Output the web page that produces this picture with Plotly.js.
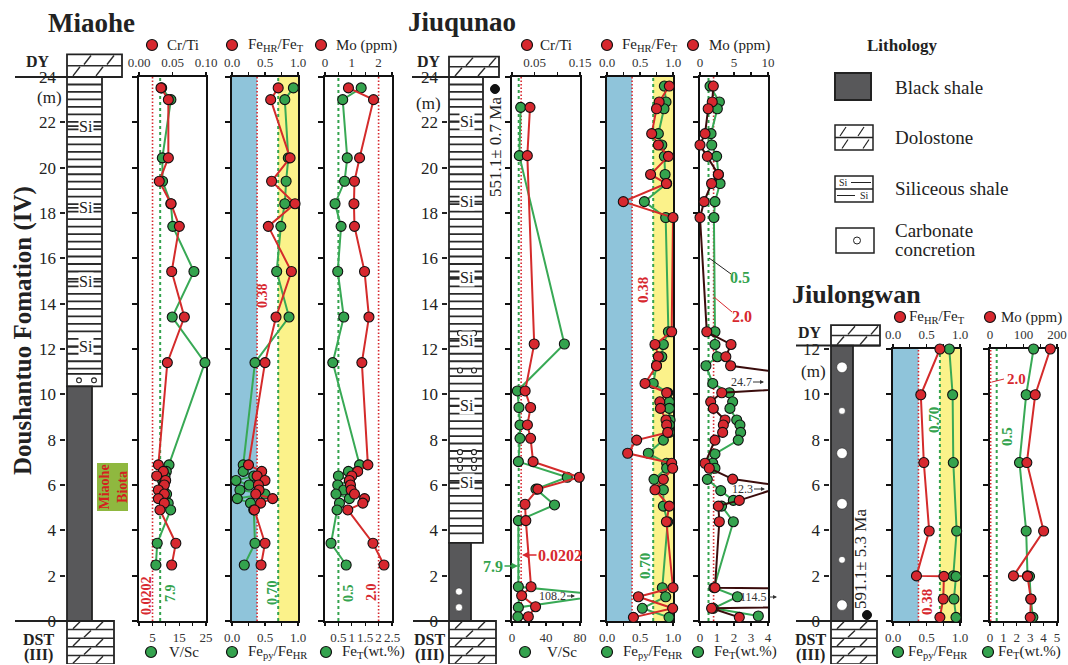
<!DOCTYPE html>
<html><head><meta charset="utf-8">
<script src="https://cdn.plot.ly/plotly-3.0.1.min.js"></script>
<style>html,body{margin:0;padding:0;background:#fff}#chart{width:1068px;height:665px}</style>
</head><body><div id="chart"></div>
<script>
// ================= DATA =================
// Miaohe (depth in m)
const mhDepth = [23.52, 23.0, 20.43, 19.4, 18.41, 17.41, 15.42, 13.41, 11.4, 6.89, 6.6, 6.4, 6.2, 6.0, 5.78, 5.6, 5.4, 5.2, 4.9, 3.43, 2.47];
const mhCrTi = [0.0328, 0.0438, 0.0438, 0.0303, 0.0478, 0.0602, 0.0488, 0.0677, 0.0423, 0.0289, 0.0363, 0.0264, 0.0398, 0.0378, 0.0289, 0.0378, 0.0289, 0.0378, 0.0313, 0.0550, 0.0488];
const mhVSc = [8.46, 11.9, 8.7, 8.8, 11.9, 12.6, 20.5, 12.4, 24.6, 11.2, 10.2, 9.7, 8.8, 9.1, 9.0, 10.3, 8.6, 10.9, 11.8, 6.8, 6.3];
const mhFeHR = [0.70, 0.586, 0.88, 0.60, 0.955, 0.55, 0.90, 0.667, 0.50, 0.25, 0.45, 0.38, 0.50, 0.40, 0.41, 0.36, 0.616, 0.434, 0.34, 0.50, 0.44];
const mhFepy = [0.93, 0.80, 0.853, 0.82, 0.80, 0.74, 0.677, 0.864, 0.348, 0.17, 0.17, 0.33, 0.06, 0.26, 0.12, 0.50, 0.08, 0.28, 0.33, 0.348, 0.186];
const mhMo = [0.875, 1.81, 1.29, 1.10, 1.08, 1.10, 1.475, 1.64, 1.375, 1.60, 1.22, 1.00, 0.91, 0.95, 0.975, 1.10, 1.475, 1.41, 0.85, 1.79, 2.20];
const mhFeT = [1.35, 0.66, 0.83, 0.73, 0.375, 0.60, 0.475, 0.70, 0.29, 1.29, 0.875, 0.50, 0.91, 0.475, 0.70, 0.41, 0.91, 0.54, 0.45, 0.225, 0.79];

// Jiuqunao
const jqCrDepth = [22.66, 20.53, 12.22, 10.15, 9.42, 8.65, 8.06, 7.03, 6.34, 5.82, 5.15, 4.43, 1.51, 1.12, 0.63, 0.19];
const jqCrTi = [0.0397, 0.0338, 0.049, 0.029, 0.041, 0.034, 0.041, 0.0465, 0.1485, 0.057, 0.0287, 0.0305, 0.042, 0.0213, 0.052, 0.036];
const jqVScDepth = [22.66, 20.53, 12.22, 10.15, 9.42, 8.65, 8.06, 7.03, 6.34, 5.82, 5.12, 4.43, 1.51, 1.15, 0.6, 0.19];
const jqVSc = [10.2, 8.6, 61.6, 6.3, 8.2, 9.4, 9.4, 7.5, 65, 28.2, 50.0, 7.5, 7.5, 108.2, 7.5, 6.9];
const jqFeDepth = [23.6, 22.9, 22.6, 21.5, 21.0, 20.5, 19.7, 19.3, 18.5, 17.8, 12.76, 12.2, 11.66, 11.26, 10.48, 10.07, 9.67, 9.38, 8.87, 8.65, 8.32, 7.98, 7.4, 6.96, 6.74, 6.25, 5.79, 5.07, 4.38, 1.47, 1.07, 0.56, 0.16];
const jqFeHR = [0.944, 0.79, 0.75, 0.677, 0.778, 0.93, 0.66, 0.90, 0.247, 1.0, 0.98, 0.727, 0.778, 0.75, 0.576, 0.904, 0.80, 0.81, 0.894, 0.904, 0.92, 0.45, 0.313, 0.98, 0.995, 0.854, 0.727, 0.944, 0.90, 1.0, 0.475, 0.995, 0.40];
const jqFepy = [0.869, 0.894, 0.864, 0.778, 0.83, 0.869, 0.88, 0.904, 0.566, 0.889, 0.93, 0.854, 0.83, 0.75, 0.70, 0.92, 0.944, 0.944, 0.955, 0.944, 0.944, 0.854, 0.626, 0.904, 0.904, 0.712, 0.854, 0.854, 0.92, 0.838, 0.889, 0.535, 0.94];
const jqMoDepth = [23.6, 22.9, 22.6, 21.5, 21.0, 20.5, 19.7, 19.3, 18.5, 17.8, 12.76, 12.2, 11.66, 11.26, 10.45, 10.07, 9.67, 9.38, 8.87, 8.65, 8.32, 7.98, 6.96, 6.74, 6.26, 5.95, 5.32, 5.07, 4.38, 1.47, 1.07, 0.56, 0.16];
const jqMo = [1.96, 1.8, 1.2, 0.74, 0, 1.08, 2.7, 1.7, 0.6, 0, 1.0, 4.56, 3.8, 4.5, 24.7, 3.2, 1.57, 1.96, 3.68, 3.43, 3.33, 2.2, 0.74, 1.37, 4.8, 12.3, 5.78, 2.7, 2.84, 2.2, 114.5, 1.7, 5.78];
const jqFeTDepth = [23.6, 22.9, 22.6, 21.5, 21.0, 20.5, 19.7, 19.3, 18.5, 17.8, 12.76, 12.2, 11.66, 11.26, 10.48, 10.07, 9.67, 9.38, 8.87, 8.65, 8.32, 7.98, 7.37, 6.96, 6.74, 6.25, 5.75, 5.32, 5.07, 4.38, 1.47, 1.07, 0.56, 0.22];
const jqFeT = [0.59, 1.14, 1.02, 0.65, 0.69, 0.98, 1.08, 1.18, 0.88, 0.82, 0.88, 0.88, 1.02, 0.35, 0.75, 1.73, 1.92, 1.76, 2.16, 2.35, 2.39, 2.25, 0.88, 0.75, 0.88, 0.43, 1.22, 1.96, 1.27, 1.96, 0.82, 2.2, 0.78, 3.43];

// Jiulongwan
const jlDepth = [12.0, 9.98, 6.99, 3.97, 1.99, 1.97, 0.97, 0.16];
const jlFeHR = [0.70, 0.415, 0.46, 0.54, 0.35, 0.76, 0.75, 0.70];
const jlFepy = [0.84, 0.89, 0.90, 0.95, 0.90, 0.94, 0.91, 0.94];
const jlMo = [180, 135, 110, 160, 70, 112, 122, 120];
const jlFeT = [3.25, 2.7, 2.2, 2.7, 2.8, 2.95, 3.05, 3.2];

// Thresholds
const thrCrTi = 0.0202, thrVSc = 7.9, thrFeHR = 0.38, thrFepy = 0.70, thrFeT = 0.5, thrMo = 2.0;

// Lithology units (top, base in m)
const mhLithType = ['DY', 'Si', 'Conc', 'Shale', 'DST'];
const mhLithTop = [25.0, 24.0, 10.9, 10.35, 0];
const mhLithBase = [24.0, 10.9, 10.35, 0, -1.9];
const jqLithType = ['DY', 'Si', 'Shale', 'DST'];
const jqLithTop = [24.9, 24.0, 3.45, 0];
const jqLithBase = [24.0, 3.45, 0, -1.9];
const jlLithType = ['DY', 'Shale', 'DST'];
const jlLithTop = [13.05, 12.15, 0];
const jlLithBase = [12.15, 0, -1.9];
const mhSiLabelDepth = [21.83, 18.23, 14.97, 12.1];
const jqSiLabelDepth = [22.04, 18.5, 15.17, 12.36, 9.5, 6.1];
const mhConcDepth = [10.62];
const jqConcDepth = [12.7, 11.05, 7.45, 7.1, 6.75];
const jqShaleConcDepth = [1.3, 0.6];
const jlConcDepth = [11.19, 9.27, 7.4, 5.17, 2.7, 0.7];
const jlConcSize = ['L', 'S', 'L', 'L', 'S', 'L'];

// ================= STYLE / LAYOUT =================
const W = 1068, H = 665;
const PXM = 544 / 24, Y0PX = 621;
const X = px => px / W;
const Y = py => 1 - py / H;
const dpx = d => Y0PX - d * PXM;
const RED = '#d7282f', GREEN = '#34a34e', RLINE = '#d42b2b', GLINE = '#38a955', DARK = '#3a0c0c';
const BLUE = '#8fc4da', YELLOW = '#fbf28a';
const FONT = 'Liberation Serif';
const evens = m => { const a = []; for (let v = 0; v <= m + 1e-9; v += 2) a.push(v); return a; };

const layout = {
  width: W, height: H, margin: {l: 0, r: 0, t: 0, b: 0, pad: 0},
  paper_bgcolor: '#fff', plot_bgcolor: 'rgba(0,0,0,0)', showlegend: false, hovermode: false,
  font: {family: FONT, size: 13, color: '#222'}, shapes: [], annotations: []
};
const traces = [];
let nx = 0, ny = 0;
const xid = n => n === 1 ? 'x' : 'x' + n, yid = n => n === 1 ? 'y' : 'y' + n;
const xkey = n => n === 1 ? 'xaxis' : 'xaxis' + n, ykey = n => n === 1 ? 'yaxis' : 'yaxis' + n;
const tickFont = {family: FONT, size: 13, color: '#333'};

function xAxisBase(a) {
  const o = {showline: true, linecolor: '#111', linewidth: 2.2, ticks: 'outside', ticklen: 3, tickwidth: 1.2,
    tickcolor: '#111', showgrid: false, zeroline: false, tickfont: tickFont, fixedrange: true, layer: 'below traces',
    range: a.range, tickmode: 'array', tickvals: a.tickvals, ticktext: a.tickvals.map(String)};
  if (a.ticktext) o.ticktext = a.ticktext;
  if (a.minor) o.minor = {tickmode: 'array', tickvals: a.minor, ticks: 'outside', ticklen: 3, tickwidth: 1.2, tickcolor: '#111', showgrid: false};
  return o;
}
function panel(o) {
  const b = ++nx, t = ++nx, yy = ++ny;
  const xb = xid(b), xt = xid(t), ya = yid(yy);
  layout[xkey(b)] = Object.assign(xAxisBase(o.bot), {domain: [X(o.x0), X(o.x1)], anchor: ya, side: 'bottom'});
  layout[xkey(t)] = Object.assign(xAxisBase(o.top), {overlaying: xb, anchor: ya, side: 'top'});
  layout[ykey(yy)] = {domain: [Y(dpx(0)), Y(dpx(o.ymax))], range: [0, o.ymax], anchor: xb,
    showline: true, mirror: true, linecolor: '#111', linewidth: 2.2, ticks: 'outside', ticklen: 5, tickwidth: 2,
    tickcolor: '#111', tickmode: 'array', tickvals: evens(o.ymax), showticklabels: false, showgrid: false,
    zeroline: false, fixedrange: true, layer: 'below traces'};
  return {xb, xt, ya};
}
function column(o) {
  const xn = ++nx, yn = ++ny;
  const xa = xid(xn), ya = yid(yn), pad = 1.5;
  layout[xkey(xn)] = {domain: [X(o.x0 - pad), X(o.x0 + o.w + pad)], range: [-pad, o.w + pad], visible: false, anchor: ya, fixedrange: true};
  layout[ykey(yn)] = {domain: [Y(dpx(o.ymin)), Y(dpx(o.ymax))], range: [o.ymin, o.ymax], anchor: xa,
    showline: false, ticks: 'outside', ticklen: 5, tickwidth: 2, tickcolor: '#222', tickmode: 'array',
    tickvals: evens(o.tickmax), tickfont: {family: FONT, size: 17, color: '#222'}, showgrid: false,
    zeroline: false, fixedrange: true};
  return {xa, ya};
}
function series(x, y, p, axis, color, lineColor) {
  traces.push({type: 'scatter', mode: 'lines+markers', x, y, xaxis: p[axis], yaxis: p.ya,
    line: {color: lineColor || color, width: 2}, marker: {size: 10, color, line: {color: '#111', width: 1.1}},
    cliponaxis: false, hoverinfo: 'skip'});
}
function vline(p, axis, x, color, dash, width) {
  layout.shapes.push({type: 'line', xref: p[axis], yref: p.ya + ' domain', x0: x, x1: x, y0: 0, y1: 1,
    line: {color, width, dash}, layer: 'below'});
}
function vband(p, axis, x0, x1, fill) {
  layout.shapes.push({type: 'rect', xref: p[axis], yref: p.ya + ' domain', x0, x1, y0: 0, y1: 1,
    fillcolor: fill, line: {width: 0}, layer: 'below'});
}
// column shapes
function rectS(c, x0, x1, y0, y1, fill, lw) {
  layout.shapes.push({type: 'rect', xref: c.xa, yref: c.ya, x0, x1, y0, y1, fillcolor: fill, line: {color: '#222', width: lw}, layer: 'above'});
}
function lineS(c, x0, y0, x1, y1, lw) {
  layout.shapes.push({type: 'line', xref: c.xa, yref: c.ya, x0, y0, x1, y1, line: {color: '#2a2a2a', width: lw}, layer: 'above'});
}
function circS(c, cx, cy, rpx, fill, lw) {
  const r = rpx / PXM;
  layout.shapes.push({type: 'circle', xref: c.xa, yref: c.ya, x0: cx - rpx, x1: cx + rpx, y0: cy - r, y1: cy + r,
    fillcolor: fill, line: {color: '#222', width: lw}, layer: 'above'});
}
// paper shapes
function pLine(x0, y0, x1, y1, color, w) {
  layout.shapes.push({type: 'line', xref: 'paper', yref: 'paper', x0: X(x0), y0: Y(y0), x1: X(x1), y1: Y(y1), line: {color, width: w}});
}
function pRect(x0, y0, x1, y1, fill, lc, lw) {
  layout.shapes.push({type: 'rect', xref: 'paper', yref: 'paper', x0: X(x0), y0: Y(y1), x1: X(x1), y1: Y(y0), fillcolor: fill, line: {color: lc, width: lw}});
}
function pCirc(cx, cy, r, fill, lc, lw) {
  layout.shapes.push({type: 'circle', xref: 'paper', yref: 'paper', x0: X(cx - r), x1: X(cx + r), y0: Y(cy + r), y1: Y(cy - r), fillcolor: fill, line: {color: lc, width: lw}});
}
function ann(px, py, text, size, color, extra) {
  layout.annotations.push(Object.assign({xref: 'paper', yref: 'paper', x: X(px), y: Y(py), text, showarrow: false,
    xanchor: 'center', yanchor: 'middle', font: {family: FONT, size: size || 14, color: color || '#222'}}, extra || {}));
}
function arrowAnn(px, py, ax, text, size, color, bold) {
  layout.annotations.push({xref: 'paper', yref: 'paper', x: X(px), y: Y(py), ax, ay: 0, text: bold ? '<b>' + text + '</b>' : text,
    showarrow: true, arrowhead: 2, arrowsize: bold ? 1 : 0.8, arrowwidth: bold ? 1.3 : 1, arrowcolor: color,
    font: {family: FONT, size, color}});
}

// ---- lithology drawing ----
const STRIPE = 0.33;
function dolo(c, top, base, w, rows) {
  rectS(c, 0, w, base, top, '#fff', 1.8);
  const rh = (top - base) / rows;
  for (let i = 1; i < rows; i++) lineS(c, 0, base + i * rh, w, base + i * rh, 1.5);
  for (let r = 0; r < rows; r++) {
    const off = (r % 2) ? 17 : 6;
    for (let x = off; x + 7 <= w - 1; x += 23) lineS(c, x, base + r * rh + rh * 0.1, x + 7, base + (r + 1) * rh - rh * 0.1, 1.4);
  }
}
function drawLith(c, types, tops, bases, widths) {
  for (let i = 0; i < types.length; i++) {
    const t = types[i], top = tops[i], base = bases[i], w = widths[t];
    if (t === 'Shale') rectS(c, 0, w, base, top, '#58585a', 1.8);
    else if (t === 'Si') {
      rectS(c, 0, w, base, top, '#fff', 1.8);
      for (let d = top - STRIPE; d > base + 0.12; d -= STRIPE) lineS(c, 0, d, w, d, 1.8);
    } else if (t === 'Conc') rectS(c, 0, w, base, top, '#fff', 1.8);
    else dolo(c, top, base, w, t === 'DY' ? 2 : 5);
  }
}

// ================= PANELS =================
const tk01 = {range: [0, 1], tickvals: [0, 0.5, 1], ticktext: ['0.0', '0.5', '1.0'], minor: [0.25, 0.75]};
const pMA = panel({x0: 139, x1: 206, ymax: 24,
  top: {range: [0, 0.1], tickvals: [0, 0.05, 0.1], ticktext: ['0.00', '0.05', '0.10']},
  bot: {range: [0, 25], tickvals: [5, 15, 25], minor: [0, 10, 20]}});
const pMB = panel({x0: 232, x1: 298, ymax: 24, top: tk01, bot: tk01});
const pMC = panel({x0: 325, x1: 392, ymax: 24,
  top: {range: [0, 2.5], tickvals: [0, 1, 2], minor: [0.5, 1.5, 2.5]},
  bot: {range: [0, 2.5], tickvals: [0.5, 1, 1.5, 2, 2.5], ticktext: ['0.5', '1', '1.5', '2', '2.5'], minor: [0]}});
const pJA = panel({x0: 512, x1: 580, ymax: 24,
  top: {range: [0, 0.15], tickvals: [0.05, 0.15], ticktext: ['0.05', '0.15'], minor: [0, 0.1]},
  bot: {range: [0, 80], tickvals: [0, 40, 80], minor: [20, 60]}});
const pJB = panel({x0: 607, x1: 673, ymax: 24, top: tk01, bot: tk01});
const pJC = panel({x0: 700, x1: 768, ymax: 24,
  top: {range: [0, 10], tickvals: [0, 5, 10], minor: [2.5, 7.5]},
  bot: {range: [0, 4], tickvals: [0, 1, 2, 3, 4]}});
const pLB = panel({x0: 893, x1: 960, ymax: 12, top: tk01, bot: tk01});
const pLC = panel({x0: 990, x1: 1057, ymax: 12,
  top: {range: [0, 200], tickvals: [0, 100, 200], minor: [50, 150]},
  bot: {range: [0, 5], tickvals: [0, 1, 2, 3, 4, 5]}});

// bands and thresholds
[pMB, pJB, pLB].forEach(p => { vband(p, 'xt', 0, thrFeHR, BLUE); vband(p, 'xb', thrFepy, 1, YELLOW); });
[pMA, pJA].forEach(p => { vline(p, 'xt', thrCrTi, RED, '1.5px,2px', 1.6); vline(p, 'xb', thrVSc, GREEN, '3px,3px', 2); });
[pMB, pJB, pLB].forEach(p => { vline(p, 'xt', thrFeHR, RED, '1.5px,2px', 1.6); vline(p, 'xb', thrFepy, GREEN, '3px,3px', 2); });
[pMC, pJC, pLC].forEach(p => { vline(p, 'xt', thrMo, RED, '1.5px,2px', 1.6); vline(p, 'xb', thrFeT, GREEN, '3px,3px', 2); });

// series (green first, red on top)
series(mhVSc, mhDepth, pMA, 'xb', GREEN, GLINE); series(mhCrTi, mhDepth, pMA, 'xt', RED, RLINE);
series(mhFepy, mhDepth, pMB, 'xb', GREEN, GLINE); series(mhFeHR, mhDepth, pMB, 'xt', RED, RLINE);
series(mhFeT, mhDepth, pMC, 'xb', GREEN, GLINE); series(mhMo, mhDepth, pMC, 'xt', RED, RLINE);
series(jqVSc, jqVScDepth, pJA, 'xb', GREEN, GLINE); series(jqCrTi, jqCrDepth, pJA, 'xt', RED, RLINE);
series(jqFepy, jqFeDepth, pJB, 'xb', GREEN, GLINE); series(jqFeHR, jqFeDepth, pJB, 'xt', RED, RLINE);
series(jqFeT, jqFeTDepth, pJC, 'xb', GREEN, GLINE); series(jqMo, jqMoDepth, pJC, 'xt', RED, DARK);
series(jlFepy, jlDepth, pLB, 'xb', GREEN, GLINE); series(jlFeHR, jlDepth, pLB, 'xt', RED, RLINE);
series(jlFeT, jlDepth, pLC, 'xb', GREEN, GLINE); series(jlMo, jlDepth, pLC, 'xt', RED, RLINE);

// ================= LITHOLOGY COLUMNS =================
const cMH = column({x0: 67, w: 55, ymin: -1.9, ymax: 26, tickmax: 24});
const cJQ = column({x0: 449, w: 50, ymin: -1.9, ymax: 26, tickmax: 24});
const cJL = column({x0: 831, w: 49, ymin: -1.9, ymax: 13.3, tickmax: 12});
drawLith(cMH, mhLithType, mhLithTop, mhLithBase, {DY: 55, Si: 35, Conc: 35, Shale: 25, DST: 47});
drawLith(cJQ, jqLithType, jqLithTop, jqLithBase, {DY: 50, Si: 34, Shale: 22, DST: 47});
drawLith(cJL, jlLithType, jlLithTop, jlLithBase, {DY: 49, Shale: 22, DST: 46});
mhSiLabelDepth.forEach(d => lineS(cMH, 0, d, 35, d, 1.8));
jqSiLabelDepth.forEach(d => lineS(cJQ, 0, d, 34, d, 1.8));
mhConcDepth.forEach(d => { circS(cMH, 12, d, 2.4, '#fff', 1.1); circS(cMH, 27, d, 2.4, '#fff', 1.1); });
jqConcDepth.forEach(d => { circS(cJQ, 11, d, 2.5, '#fff', 1.1); circS(cJQ, 25, d, 2.5, '#fff', 1.1); });
jqShaleConcDepth.forEach(d => circS(cJQ, 10, d, 3.6, '#fff', 0.5));
jlConcDepth.forEach((d, i) => circS(cJL, 11, d, jlConcSize[i] === 'L' ? 5.3 : 3.4, '#fff', 0.5));
mhSiLabelDepth.forEach(d => layout.annotations.push({xref: cMH.xa, yref: cMH.ya, x: 19, y: d, text: 'Si', showarrow: false,
  bgcolor: '#fff', borderpad: 0, font: {family: FONT, size: 16, color: '#222'}}));
jqSiLabelDepth.forEach(d => layout.annotations.push({xref: cJQ.xa, yref: cJQ.ya, x: 18, y: d, text: 'Si', showarrow: false,
  bgcolor: '#fff', borderpad: 0, font: {family: FONT, size: 16, color: '#222'}}));

// boundary lines
pLine(15, dpx(24), 122, dpx(24), '#222', 2); pLine(15, dpx(0), 114, dpx(0), '#222', 2);
pLine(412, dpx(24), 499, dpx(24), '#222', 2); pLine(413, dpx(0), 496, dpx(0), '#222', 2);
pLine(796, dpx(12.15), 880, dpx(12.15), '#222', 2); pLine(796, dpx(0), 877, dpx(0), '#222', 2);

// ================= TEXT =================
ann(91, 23, '<b>Miaohe</b>', 27, '#222');
ann(462, 22, '<b>Jiuqunao</b>', 27, '#222');
ann(856, 295, '<b>Jiulongwan</b>', 26, '#222');
ann(23, 331, '<b>Doushantuo Fomation (IV)</b>', 25, '#222', {textangle: -90});
[[38, 62, 639, 655], [429, 62, 639, 655], [810, 332, 639, 655]].forEach(a => {
  ann(a[0], a[1], '<b>DY</b>', 16); ann(a[0], a[2], '<b>DST</b>', 16); ann(a[0], a[3], '<b>(III)</b>', 16);
});
ann(49, 97, '(m)', 17); ann(428, 104, '(m)', 17); ann(813, 372, '(m)', 17);
ann(495, 147, '551.1± 0.7 Ma', 17, '#222', {textangle: -90}); pCirc(495, 89, 4.5, '#111', '#111', 1);
ann(860, 559, '591.1± 5.3 Ma', 17, '#222', {textangle: -90}); pCirc(867, 615, 4.5, '#111', '#111', 1);
// Miaohe biota
pRect(97, 463, 128, 511, '#8fb83f', '#8fb83f', 0);
ann(112.5, 487, '<b>Miaohe<br>Biota</b>', 14, '#d42020', {textangle: -90});

// threshold labels
ann(146, 596, '<b>0.0202</b>', 14, RED, {textangle: -90});
ann(170, 593, '<b>7.9</b>', 14, GREEN, {textangle: -90});
ann(262, 296, '<b>0.38</b>', 14, RED, {textangle: -90});
ann(272, 593, '<b>0.70</b>', 14, GREEN, {textangle: -90});
ann(348, 593, '<b>0.5</b>', 14, GREEN, {textangle: -90});
ann(371, 592, '<b>2.0</b>', 14, RED, {textangle: -90});
ann(643, 290, '<b>0.38</b>', 15, RED, {textangle: -90});
ann(645, 566, '<b>0.70</b>', 15, GREEN, {textangle: -90});
arrowAnn(522, 555, 38, '0.0202', 16, RED, true);
arrowAnn(518, 566, -25, '7.9', 16, GREEN, true);
pLine(709, 258, 731, 274, '#222', 1); ann(740, 277, '<b>0.5</b>', 16, GREEN);
pLine(714, 297, 732, 312, RED, 1); ann(742, 316, '<b>2.0</b>', 16, RED);
ann(934, 420, '<b>0.70</b>', 15, GREEN, {textangle: -90});
ann(927, 602, '<b>0.38</b>', 15, RED, {textangle: -90});
ann(1007, 437, '<b>0.5</b>', 15, GREEN, {textangle: -90});
pLine(992, 382, 1004, 379, RED, 1); ann(1016, 379, '<b>2.0</b>', 15, RED);
// off-scale values
arrowAnn(764, 382, -23, '24.7', 12, '#333', false);
arrowAnn(765, 489, -23, '12.3', 12, '#333', false);
arrowAnn(777, 597, -23, '114.5', 12, '#333', false);
arrowAnn(575, 596, -23, '108.2', 12, '#333', false);

// series legends
function leg(cx, cy, color, text, tx) {
  pCirc(cx, cy, 5.5, color, '#111', 1.2);
  ann(tx, cy, text, 15, '#222', {xanchor: 'left'});
}
const LB = 652;
leg(152, 45, RED, 'Cr/Ti', 165); leg(232, 45, RED, 'Fe<sub>HR</sub>/Fe<sub>T</sub>', 246); leg(321, 45, RED, 'Mo (ppm)', 334);
leg(151, LB, GREEN, 'V/Sc', 167); leg(232, LB, GREEN, 'Fe<sub>py</sub>/Fe<sub>HR</sub>', 246); leg(326, LB, GREEN, 'Fe<sub>T</sub>(wt.%)', 340);
leg(527, 45, RED, 'Cr/Ti', 538); leg(607, 45, RED, 'Fe<sub>HR</sub>/Fe<sub>T</sub>', 620); leg(693, 45, RED, 'Mo (ppm)', 707);
leg(525, LB, GREEN, 'V/Sc', 545); leg(607, LB, GREEN, 'Fe<sub>py</sub>/Fe<sub>HR</sub>', 621); leg(698, LB, GREEN, 'Fe<sub>T</sub>(wt.%)', 712);
leg(900, 317, RED, 'Fe<sub>HR</sub>/Fe<sub>T</sub>', 907); leg(990, 317, RED, 'Mo (ppm)', 999);
leg(898, LB, GREEN, 'Fe<sub>py</sub>/Fe<sub>HR</sub>', 906); leg(988, LB, GREEN, 'Fe<sub>T</sub>(wt.%)', 996);

// lithology legend
ann(902, 45, '<b>Lithology</b>', 17);
pRect(835, 73, 871, 100, '#58585a', '#222', 2);
ann(893, 87, 'Black shale', 19, '#222', {xanchor: 'left'});
pRect(835, 125, 873, 150, '#fff', '#222', 1.5); pLine(835, 137.5, 873, 137.5, '#222', 1.3);
pLine(840, 136, 846, 127, '#222', 1.2); pLine(858, 136, 864, 127, '#222', 1.2);
pLine(842, 148.5, 848, 139.5, '#222', 1.2); pLine(863, 148.5, 869, 139.5, '#222', 1.2);
ann(893, 137, 'Dolostone', 19, '#222', {xanchor: 'left'});
pRect(835, 176, 873, 202, '#fff', '#222', 1.5); pLine(835, 189, 873, 189, '#222', 1.3);
ann(843, 182.5, 'Si', 10); pLine(851, 182.5, 871, 182.5, '#222', 1);
pLine(837, 195.5, 855, 195.5, '#222', 1); ann(864, 195.5, 'Si', 10);
ann(893, 188, 'Siliceous shale', 19, '#222', {xanchor: 'left'});
pRect(836, 228, 874, 253, '#fff', '#222', 1.5); pCirc(857, 240.5, 3.5, '#fff', '#222', 1);
ann(893, 231, 'Carbonate', 19, '#222', {xanchor: 'left'});
ann(893, 249, 'concretion', 19, '#222', {xanchor: 'left'});

Plotly.newPlot('chart', traces, layout, {displayModeBar: false, staticPlot: true});
</script></body></html>
